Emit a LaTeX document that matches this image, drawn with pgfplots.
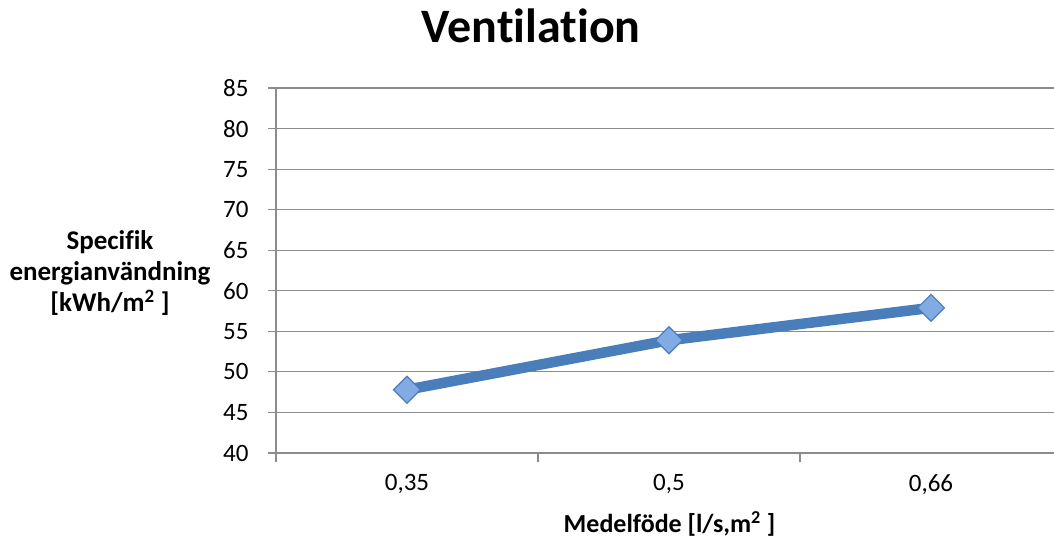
\documentclass[border=0pt]{standalone}
\usepackage{fontspec}
\setmainfont{Carlito}[Ligatures=NoCommon]
\usepackage{pgfplots}
\pgfplotsset{compat=1.18}
\definecolor{lineblue}{HTML}{4A7EBB}
\definecolor{markfill}{HTML}{82AAE3}
\definecolor{gridgray}{HTML}{8C8C8C}
\begin{document}
\begin{tikzpicture}
\path[use as bounding box] (0,0) rectangle (1054pt,542pt);
\begin{axis}[
  at={(276pt,89pt)}, anchor=south west,
  scale only axis, width=786pt, height=365pt,
  xmin=-0.5, xmax=2.5, ymin=40, ymax=85,
  xtick={0,1,2}, xticklabels={{0,35},{0,5},{0,66}},
  minor xtick={-0.5,0.5,1.5,2.5},
  major x tick style={draw=none},
  ytick={40,45,...,85},
  tick align=outside, major tick length=8pt, minor tick length=9pt,
  axis x line*=bottom, axis y line*=left,
  axis line style={gridgray, line width=1.2pt},
  every tick/.style={gridgray, line width=1.2pt},
  minor x tick style={gridgray, line width=1.2pt},
  ymajorgrids, grid style={gridgray, line width=1.2pt},
  /pgf/number format/assume math mode=true,
  tick label style={font=\fontsize{25}{30}\selectfont, text=black},
  xticklabel style={yshift=-10pt},
  yticklabel style={xshift=-16pt},
  title={Ventilation},
  title style={font=\fontsize{48}{56}\selectfont\bfseries, at={(rel axis cs:0.3245,1.107)}, anchor=base},
  xlabel={Medelföde [l/s,m\textsuperscript{2} ]},
  xlabel style={font=\fontsize{26}{31}\selectfont\bfseries, at={(rel axis cs:0.5006,-0.219)}, anchor=base},
  ylabel={Specifik\\energianvändning\\{}[kWh/m\textsuperscript{2} ]},
  ylabel style={font=\fontsize{27}{31}\selectfont\bfseries, at={(rel axis cs:-0.2112,0.493)}, anchor=center, rotate=-90, align=center},
  clip=false,
]
\addplot[lineblue, line width=10.5pt, mark=square*, mark size=9.5pt,
  mark options={rotate=45, fill=markfill, draw=lineblue, line width=1.2pt}]
  coordinates {(0,47.8) (1,53.9) (2,57.9)};
\end{axis}
\end{tikzpicture}
\end{document}
